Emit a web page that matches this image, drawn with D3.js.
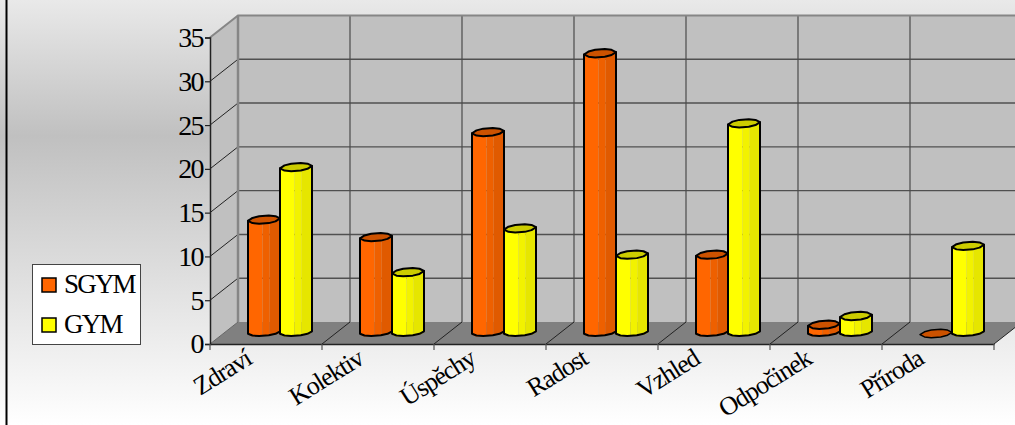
<!DOCTYPE html>
<html>
<head>
<meta charset="utf-8">
<script src="https://cdnjs.cloudflare.com/ajax/libs/d3/7.8.5/d3.min.js"></script>
<style>
  html, body { margin: 0; padding: 0; background: #fff; }
  svg { display: block; }
  text { font-family: "Liberation Serif", serif; fill: #000; }
</style>
</head>
<body>
<div id="chart"></div>
<script>
const categories = ['Zdraví', 'Kolektiv', 'Úspěchy', 'Radost', 'Vzhled', 'Odpočinek', 'Příroda'];
const seriesNames = ['SGYM', 'GYM'];
const sgym = [13, 11, 23, 32, 9, 1, 0];
const gym = [19, 7, 12, 9, 24, 2, 10];
const yTicks = [0, 5, 10, 15, 20, 25, 30, 35];

const width = 1015, height = 425;
const depthX = 28, depthY = -22; // offset of the back wall from the front plane
const barRy = 3.8;

const svg = d3.select('#chart').append('svg')
  .attr('width', width)
  .attr('height', height);

const defs = svg.append('defs');
const bg = defs.append('linearGradient')
  .attr('id', 'bg').attr('x1', 0).attr('y1', 0).attr('x2', 0).attr('y2', 1);
bg.append('stop').attr('offset', 0).attr('stop-color', '#e9e9e9');
bg.append('stop').attr('offset', 0.32).attr('stop-color', '#c0c0c0');
bg.append('stop').attr('offset', 1).attr('stop-color', '#ffffff');

const x = d3.scaleBand().domain(categories).range([210, 994]);
const y = d3.scaleLinear().domain([0, 35]).range([344, 37.5]);
const seriesX = d3.scaleBand().domain(seriesNames).range([38, 102]);

const shades = {
  SGYM: { bands: ['#ff6600', '#ee6000', '#e05a00'], top: '#cc5200' },
  GYM: { bands: ['#ffff00', '#f2f200', '#e6e600'], top: '#cccc00' }
};

svg.append('rect')
  .attr('width', width).attr('height', height)
  .attr('fill', 'url(#bg)');
svg.append('line')
  .attr('x1', 6.5).attr('x2', 6.5).attr('y1', 0).attr('y2', height)
  .attr('stroke', '#000').attr('stroke-width', 2);

// walls and floor
const x0 = x.range()[0], x1 = x.range()[1];
const poly = pts => 'M' + pts.map(p => p.join(',')).join('L') + 'Z';
const walls = svg.append('g');
walls.append('path')
  .attr('d', poly([[x0 + depthX, y(35) + depthY], [x1 + depthX, y(35) + depthY], [x1 + depthX, y(0) + depthY], [x0 + depthX, y(0) + depthY]]))
  .attr('fill', '#c0c0c0');
walls.append('path')
  .attr('d', poly([[x0, y(35)], [x0 + depthX, y(35) + depthY], [x0 + depthX, y(0) + depthY], [x0, y(0)]]))
  .attr('fill', '#c0c0c0');
walls.append('path')
  .attr('d', poly([[x0, y(0)], [x0 + depthX, y(0) + depthY], [x1 + depthX, y(0) + depthY], [x1, y(0)]]))
  .attr('fill', '#808080');

// gridlines on the back wall and side wall
const grid = svg.append('g');
grid.selectAll('.h').data(yTicks.slice(1, -1)).enter().append('line')
  .attr('x1', x0 + depthX).attr('x2', x1 + depthX)
  .attr('y1', d => y(d) + depthY).attr('y2', d => y(d) + depthY)
  .attr('stroke', '#505050').attr('stroke-width', 1.4);
grid.selectAll('.s').data(yTicks.slice(1, -1)).enter().append('line')
  .attr('x1', x0).attr('x2', x0 + depthX)
  .attr('y1', d => y(d)).attr('y2', d => y(d) + depthY)
  .attr('stroke', '#222').attr('stroke-width', 1);
grid.selectAll('.v').data(categories.slice(1).concat('end')).enter().append('line')
  .attr('x1', (d, i) => x0 + depthX + (i + 1) * x.step())
  .attr('x2', (d, i) => x0 + depthX + (i + 1) * x.step())
  .attr('y1', y(35) + depthY).attr('y2', y(0) + depthY)
  .attr('stroke', '#4a4a4a').attr('stroke-width', 1.2);
grid.selectAll('.f').data(categories.slice(1).concat('end')).enter().append('line')
  .attr('x1', (d, i) => x0 + (i + 1) * x.step())
  .attr('x2', (d, i) => x0 + depthX + (i + 1) * x.step())
  .attr('y1', y(0)).attr('y2', y(0) + depthY)
  .attr('stroke', '#222').attr('stroke-width', 1);

// lighter frame along the top and the back corner
svg.append('path')
  .attr('d', `M${x0},${y(35)}L${x0 + depthX},${y(35) + depthY}L${x1 + depthX},${y(35) + depthY}`)
  .attr('fill', 'none').attr('stroke', '#868686').attr('stroke-width', 2);
svg.append('line')
  .attr('x1', x0 + depthX).attr('x2', x0 + depthX)
  .attr('y1', y(35) + depthY).attr('y2', y(0) + depthY)
  .attr('stroke', '#868686').attr('stroke-width', 2.5);
svg.append('line')
  .attr('x1', x0).attr('x2', x0 + depthX)
  .attr('y1', y(0)).attr('y2', y(0) + depthY)
  .attr('stroke', '#666').attr('stroke-width', 1);

// cylinder rim: a faceted ellipse leaning with the oblique projection
const rimFacets = [[1, 0], [0.72, 0.68], [0.3, 1], [-0.3, 1], [-0.72, 0.68], [-1, 0], [-0.72, -0.68], [-0.3, -1], [0.3, -1], [0.72, -0.68]];
const rimPoint = (cx, cy, rx, f, ry = barRy) => [cx + rx * f[0], cy + ry * f[1] - 1.2 * f[0]];
// height of the lower rim at a position u (-1..1) across the bar
const baseRy = 3.2;
const lowerRimY = (cy, u) => cy + baseRy * Math.min(1, 1.45 * Math.sqrt(Math.max(0, 1 - u * u))) - 1.2 * u;

function drawBar(g, name, cat, value) {
  const left = x(cat) + seriesX(name);
  const w = seriesX.bandwidth();
  const cx = left + w / 2, rx = w / 2;
  const yBase = y(0) + depthY / 2 - 0.5;
  const yTop = yBase + 1 - (y(0) - y(value));
  const c = shades[name];
  const rim = cy => d3.line()(rimFacets.map(f => rimPoint(cx, cy, rx, f))) + 'Z';

  if (value > 0) {
    // side surface built from three vertical shade bands
    const stops = [[-1, -0.1], [-0.1, 0.36], [0.36, 1]];
    const u2x = u => cx + rx * u;
    g.selectAll(null).data(stops).enter().append('path')
      .attr('d', s => {
        const us = d3.range(0, 9).map(i => s[0] + (s[1] - s[0]) * i / 8);
        const lower = us.map(u => [u2x(u), lowerRimY(yBase, u)]).reverse();
        const upper = [[u2x(s[0]), yTop - 1.2 * s[0]], [u2x(s[1]), yTop - 1.2 * s[1]]];
        return d3.line()(upper.concat(lower)) + 'Z';
      })
      .attr('fill', (s, i) => c.bands[i]);
    const rimBottom = rimFacets.slice(0, 6).map(f => rimPoint(cx, yBase, rx, f, baseRy));
    const outline = [rimPoint(cx, yTop, rx, [-1, 0]), rimPoint(cx, yTop, rx, [1, 0])].concat(rimBottom);
    g.append('path')
      .attr('d', d3.line()(outline) + 'Z')
      .attr('fill', 'none').attr('stroke', '#000').attr('stroke-width', 2).attr('stroke-linejoin', 'round');
  }
  g.append('path')
    .attr('d', rim(yTop))
    .attr('fill', c.top).attr('stroke', '#000').attr('stroke-width', value > 0 ? 2 : 1.5).attr('stroke-linejoin', 'round');
}

const bars = svg.append('g');
categories.forEach((cat, i) => {
  drawBar(bars, 'SGYM', cat, sgym[i]);
  drawBar(bars, 'GYM', cat, gym[i]);
});

// axes
const yAxis = d3.axisLeft(y).tickValues(yTicks).tickSize(5).tickPadding(2);
const yG = svg.append('g').attr('transform', `translate(${x0},0)`).call(yAxis);
yG.select('.domain').attr('stroke', '#222').attr('stroke-width', 1.5);
yG.selectAll('line').attr('stroke', '#222').attr('stroke-width', 1.2);
yG.selectAll('text')
  .attr('font-size', 28).attr('letter-spacing', -1.6)
  .style('font-family', '"Liberation Serif", serif').attr('fill', '#000');

const xAxis = d3.axisBottom(x).tickSizeOuter(0).tickSize(0).tickFormat('');
const xG = svg.append('g').attr('transform', `translate(0,${y(0)})`).call(xAxis);
xG.select('.domain').attr('stroke', '#222').attr('stroke-width', 1.5);
xG.selectAll('.tick').remove();
xG.selectAll('.mark').data(['start'].concat(categories.slice(1), 'end')).enter().append('line')
  .attr('x1', (d, i) => x0 + i * x.step())
  .attr('x2', (d, i) => x0 + i * x.step())
  .attr('y1', 0).attr('y2', 6)
  .attr('stroke', '#555').attr('stroke-width', 1.2);

svg.append('g').selectAll('text').data(categories).enter().append('text')
  .attr('transform', d => `translate(${x(d) + x.bandwidth() / 2 - 13},${y(0) + 19}) rotate(-32)`)
  .attr('text-anchor', 'end')
  .attr('font-size', 26)
  .attr('letter-spacing', -1.2)
  .text(d => d);

// legend
const legend = svg.append('g');
legend.append('rect')
  .attr('x', 32.5).attr('y', 264.5).attr('width', 108).attr('height', 80)
  .attr('fill', '#fff').attr('stroke', '#444').attr('stroke-width', 1);
const legendY = d3.scalePoint().domain(seriesNames).range([285, 325]);
seriesNames.forEach(name => {
  legend.append('rect')
    .attr('x', 42).attr('y', legendY(name) - 7).attr('width', 14).attr('height', 14)
    .attr('fill', shades[name].bands[0]).attr('stroke', '#000').attr('stroke-width', 1.5);
  legend.append('text')
    .attr('x', 64).attr('y', legendY(name) + 8)
    .attr('font-size', 27).attr('letter-spacing', -1.8)
    .text(name);
});
</script>
</body>
</html>
